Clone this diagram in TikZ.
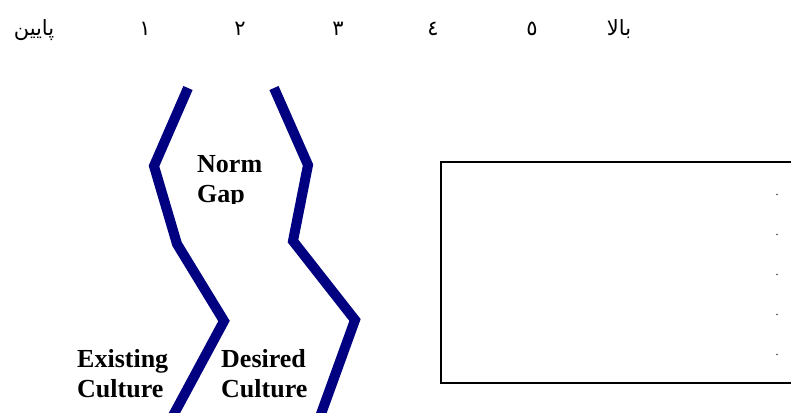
\documentclass[tikz,border=0pt]{standalone}
\usepackage{fontspec}
\setmainfont{Liberation Serif}
\newfontfamily\arabicfont[Script=Arabic]{DejaVu Sans}
\TeXXeTstate=1
\definecolor{navyline}{RGB}{0,0,128}
\begin{document}
\begin{tikzpicture}[x=1pt,y=-1pt,
  wave/.style={draw=navyline,line width=10pt,line join=miter,miter limit=10},
  lbl/.style={font=\bfseries\fontsize{26}{30}\selectfont,align=left,inner sep=0pt,anchor=north west},
  scl/.style={font=\arabicfont\fontsize{21}{24}\selectfont,inner sep=0pt,anchor=center},
  dotl/.style={font=\fontsize{12}{14}\selectfont,inner sep=0pt,anchor=center}]
\useasboundingbox (0,0) rectangle (791,412);
\clip (0,0) rectangle (791,412);
% scale labels
\node[scl] (low) at (34,30) {\beginR پایین\endR};
\node[scl] (s1) at (145,29) {١};
\node[scl] (s2) at (240,29) {٢};
\node[scl] (s3) at (338,29) {٣};
\node[scl] (s4) at (433,29) {٤};
\node[scl] (s5) at (532,29) {٥};
\node[scl] (high) at (619,29) {\beginR بالا\endR};
% wavy lines
\draw[wave] (188,88) -- (154,166) -- (177,244) -- (224,321) -- (168,425);
\draw[wave] (274,88) -- (308,165) -- (293,241) -- (355,320) -- (317,425);
% labels
\begin{scope}
\clip (185,140) rectangle (290,203.5);
\node[lbl] (gap) at (197,155) {Norm\\Gap};
\end{scope}
\node[lbl] (exist) at (77,349) {Existing\\Culture};
\node[lbl] (desired) at (221,349) {Desired\\Culture};
% box
\draw[line width=2pt] (441,162) rectangle (820,383);
\node[dotl] (d1) at (777,195) {.};
\node[dotl] (d2) at (777,235) {.};
\node[dotl] (d3) at (777,275) {.};
\node[dotl] (d4) at (777,315) {.};
\node[dotl] (d5) at (777,355) {.};
\end{tikzpicture}
\end{document}
